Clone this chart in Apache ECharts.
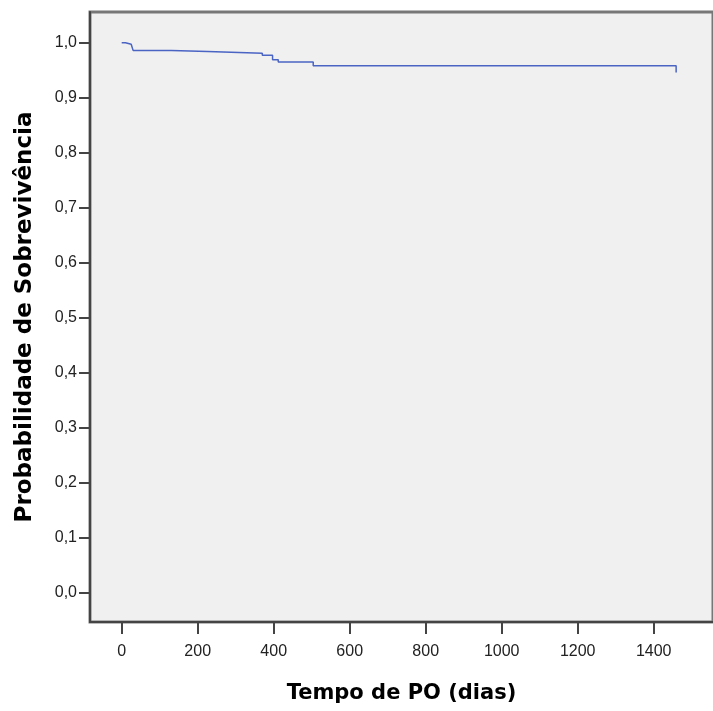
<!DOCTYPE html>
<html><head><meta charset="utf-8">
<script src="https://cdn.jsdelivr.net/npm/echarts@6/dist/echarts.min.js"></script>
<style>html,body{margin:0;padding:0;background:#fff}#c{width:713px;height:711px}</style>
</head><body><div id="c"></div>
<script>
const days = [0, 10, 25, 30, 131, 226, 370, 397, 412, 504, 1459];
const survival = [1.0, 0.997, 0.994, 0.986, 0.984, 0.981, 0.977, 0.969, 0.965, 0.958, 0.946];
const xTicks = [0, 200, 400, 600, 800, 1000, 1200, 1400];
const yTicks = [0.0, 0.1, 0.2, 0.3, 0.4, 0.5, 0.6, 0.7, 0.8, 0.9, 1.0];
const xTitle = 'Tempo de PO (dias)';
const yTitle = 'Probabilidade de Sobrevivência';

const chart = echarts.init(document.getElementById('c'), null, {renderer: 'canvas'});
chart.setOption({
  animation: false,
  grid: {left: 90, top: 12, right: 0, bottom: 89, containLabel: false, outerBoundsMode: 'none',
    show: true, backgroundColor: '#f0f0f0', borderColor: '#777', borderWidth: 3},
  xAxis: {
    type: 'value', min: -83.4, max: 1556,
    axisLine: {show: true, onZero: false, lineStyle: {color: '#444', width: 2}},
    axisTick: {show: true, length: 12, lineStyle: {color: '#444', width: 2}, customValues: xTicks},
    axisLabel: {customValues: xTicks, color: '#222', fontSize: 16, fontFamily: 'Liberation Sans Narrow, Liberation Sans, Arial', margin: 22,
      formatter: v => String(v)},
    splitLine: {show: false},
    name: xTitle, nameLocation: 'middle', nameGap: 61,
    nameTextStyle: {fontSize: 21, fontWeight: 'bold', color: '#000', fontFamily: 'DejaVu Sans'}
  },
  yAxis: {
    type: 'value', min: -0.0533, max: 1.0558,
    axisLine: {show: true, onZero: false, lineStyle: {color: '#444', width: 2}},
    axisTick: {show: true, length: 11, lineStyle: {color: '#444', width: 2}, customValues: yTicks},
    axisLabel: {customValues: yTicks, color: '#222', fontSize: 16, fontFamily: 'Liberation Sans Narrow, Liberation Sans, Arial', margin: 13,
      formatter: v => v.toFixed(1).replace('.', ',')},
    splitLine: {show: false},
    name: yTitle, nameLocation: 'middle', nameGap: 53,
    nameTextStyle: {fontSize: 23, fontWeight: 'bold', color: '#000', fontFamily: 'DejaVu Sans'}
  },
  series: [{
    type: 'line', step: 'end', showSymbol: false,
    data: days.map((d, i) => [d, survival[i]]),
    lineStyle: {color: '#4a64c4', width: 1.5}
  }]
});
</script></body></html>
